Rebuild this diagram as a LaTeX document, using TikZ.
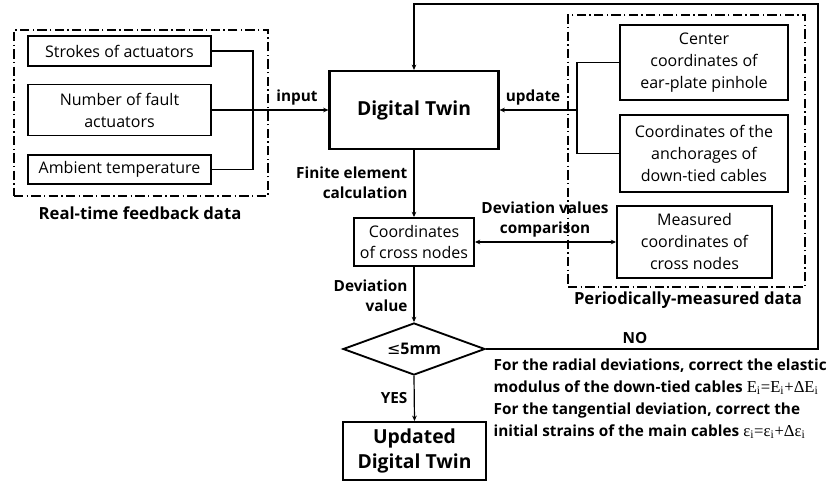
\documentclass[tikz,border=0pt]{standalone}
\usepackage{fontspec}
\setmainfont{Open Sans}
\newfontfamily\symfont{DejaVu Sans}
\newfontfamily\eqfont{Liberation Serif}
\usepackage{tikz}
\usetikzlibrary{arrows.meta}
\usetikzlibrary{shapes.geometric}

\tikzset{
	box/.style={draw, line width=1.4pt, align=center, inner sep=0pt,
		font=\fontsize{12}{16.5}\selectfont},
	bigbox/.style={box, line width=1.6pt, font=\fontsize{14.5}{19}\selectfont\bfseries},
	frame/.style={draw, line width=0.9pt, dash pattern=on 7pt off 2.5pt on 1pt off 2.5pt, inner sep=0pt},
	lab/.style={font=\fontsize{11.5}{15}\selectfont\bfseries, inner sep=1pt},
	arr/.style={-{Stealth[length=4pt,width=3.5pt]}},
	line/.style={line width=0.9pt}
}
\newcommand{\sub}[1]{\textsubscript{#1}}

\begin{document}
\begin{tikzpicture}[x=0.75pt,y=-0.75pt]
	\useasboundingbox (0,0) rectangle (833,481);

	% real-time feedback data
	\node[frame, minimum width=190.5pt, minimum height=124.5pt] (feedback) at (141,113) {};
	\node[lab, font=\fontsize{12.5}{15}\selectfont\bfseries] at (140,213) {Real-time feedback data};
	\node[box, minimum width=137.25pt, minimum height=22.5pt] (strokes) at (119.5,51) {Strokes of actuators};
	\node[box, minimum width=137.25pt, minimum height=38.25pt] (fault) at (119.5,110) {Number of fault\\actuators};
	\node[box, minimum width=137.25pt, minimum height=21.75pt] (ambient) at (119.5,169.5) {Ambient temperature};
	\coordinate (jin) at (253,110);

	% periodically-measured data
	\node[frame, minimum width=177.75pt, minimum height=204pt] (measdata) at (686.5,151) {};
	\node[lab, font=\fontsize{12.5}{15}\selectfont\bfseries] at (688,300) {Periodically-measured data};
	\node[box, minimum width=126pt, minimum height=56.25pt] (pinhole) at (704,62.5) {Center\\coordinates of\\ear-plate pinhole};
	\node[box, minimum width=126pt, minimum height=57.75pt] (anchor) at (704,153.5) {Coordinates of the\\anchorages of\\down-tied cables};
	\node[box, minimum width=116.25pt, minimum height=54pt] (measured) at (694.5,242) {Measured\\coordinates of\\cross nodes};
	\coordinate (jup) at (577,110);

	% main flow
	\node[bigbox, minimum width=126.75pt, minimum height=58.5pt] (dt) at (414,110) {Digital Twin};
	\node[box, minimum width=90pt, minimum height=36pt, font=\fontsize{12}{15.5}\selectfont] (cross) at (414,242) {Coordinates\\of cross nodes};
	\node[draw, line width=1.4pt, shape=diamond, aspect=2.73, inner sep=0pt,
		minimum width=106.5pt, minimum height=39pt, font=\fontsize{12}{15}\selectfont\bfseries] (cond) at (414,349) {{\symfont\mdseries ≤}5mm};
	\node[bigbox, minimum width=107.25pt, minimum height=43.5pt] (updated) at (414.5,451) {Updated\\Digital Twin};
	\coordinate (loopR) at (818,4);

	\draw[line] (strokes.east) -| (jin);
	\draw[line] (ambient.east) -| (jin);
	\draw[line, arr] (fault.east) -- (dt.west);
	\draw[line] (pinhole.west) -| (jup);
	\draw[line] (anchor.west) -| (jup);
	\draw[line, arr] (jup) -- (dt.east);
	\draw[line, arr] (dt.south) -- (cross.north);
	\draw[line, {Stealth[length=4pt,width=3.5pt]}-{Stealth[length=4pt,width=3.5pt]}] (cross.east) -- (measured.west);
	\draw[line, arr] (cross.south) -- (cond.north);
	\draw[line, arr] (cond.south) -- (updated.north);
	\draw[line, arr] (cond.east) -| (loopR) -| (dt.north);

	\node[lab] at (297,98) {input};
	\node[lab] at (533,98) {update};
	\node[lab, align=right, anchor=east] at (409,183) {Finite element\\calculation};
	\node[lab, align=center] at (545,220) {Deviation values\\comparison};
	\node[lab, align=right, anchor=east] at (409,296) {Deviation\\value};
	\node[lab, anchor=east] at (409,398) {YES};
	\node[lab] at (635,338) {NO};
	\node[lab, align=left, anchor=north west, font=\fontsize{11.5}{16.5}\selectfont\bfseries] (note) at (492,357)
		{For the radial deviations, correct the elastic\\
		modulus of the down-tied cables {\eqfont\mdseries\fontsize{12.5}{16.5}\selectfont E\sub{i}=E\sub{i}+ΔE\sub{i}}\\
		For the tangential deviation, correct the\\
		initial strains of the main cables {\eqfont\mdseries\fontsize{12.5}{16.5}\selectfont ε\sub{i}=ε\sub{i}+Δε\sub{i}}};
\end{tikzpicture}
\end{document}
